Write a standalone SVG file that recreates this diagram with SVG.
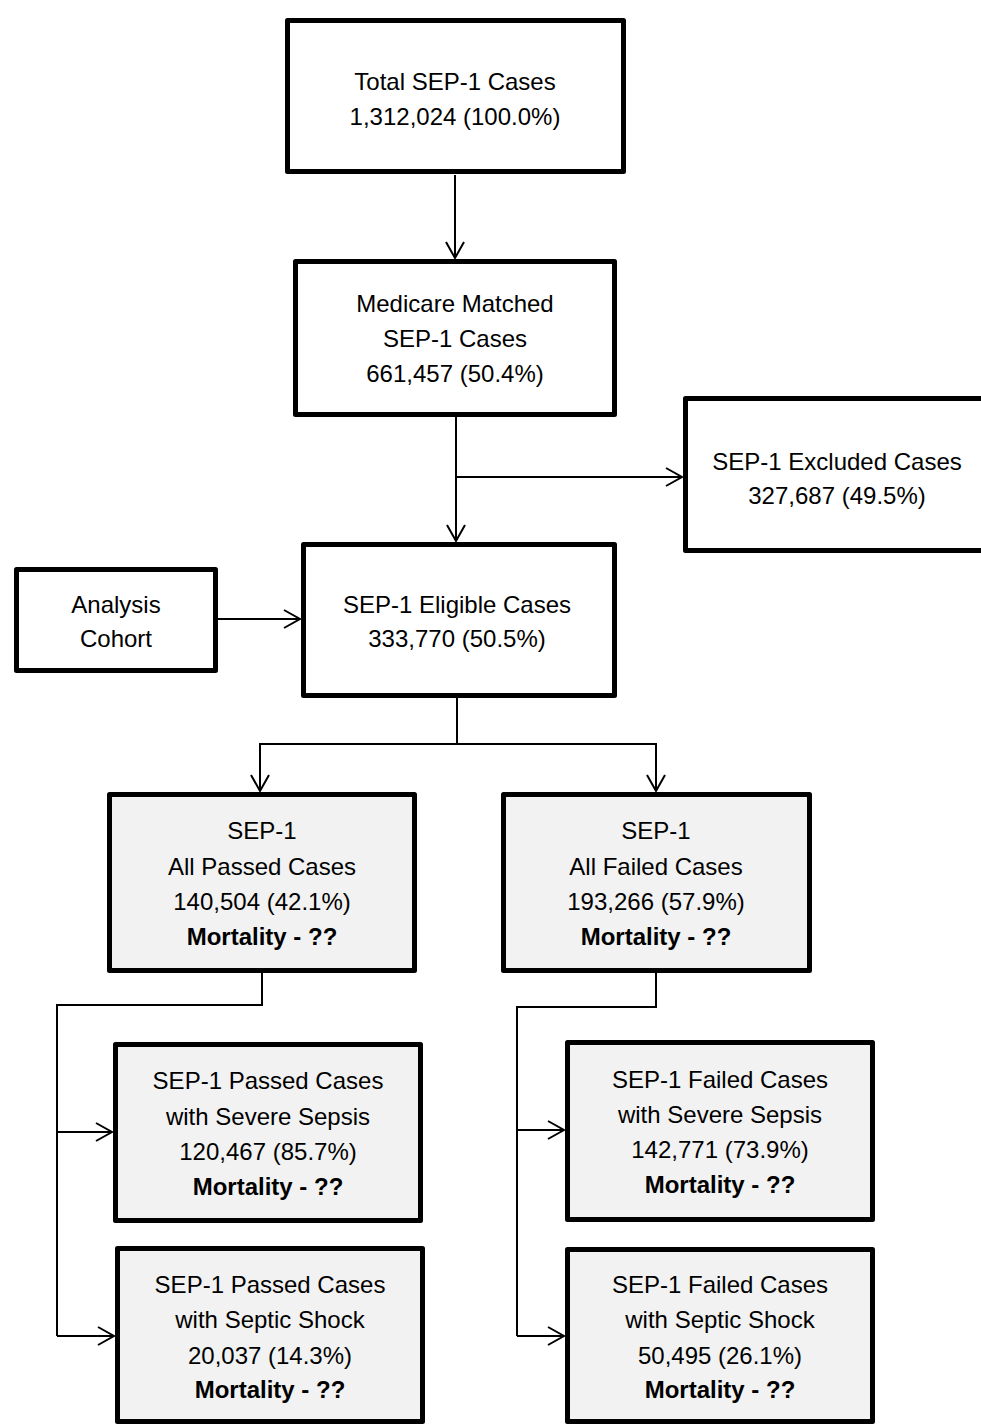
<svg xmlns="http://www.w3.org/2000/svg" width="981" height="1425" viewBox="0 0 981 1425">
<style>
.box{fill:#ffffff;stroke:#000;stroke-width:5;stroke-linejoin:round}
.gbox{fill:#f2f2f2;stroke:#000;stroke-width:5;stroke-linejoin:round}
.t{font-family:"Liberation Sans",Arial,sans-serif;font-size:24px;fill:#000;text-anchor:middle}
.b{font-weight:bold}
.c{fill:none;stroke:#000;stroke-width:2}
</style>
<defs>
<marker id="arr" markerUnits="userSpaceOnUse" markerWidth="24" markerHeight="24" viewBox="-20 -12 24 24" refX="0" refY="0" orient="auto" overflow="visible">
<path d="M-16,-9 L0,0 L-16,9" fill="none" stroke="#000" stroke-width="2"/>
</marker>
</defs>
<rect width="981" height="1425" fill="#fff"/>
<g id="connectors">
<path class="c" d="M455,175 V258" marker-end="url(#arr)"/>
<path class="c" d="M456,417 V541" marker-end="url(#arr)"/>
<path class="c" d="M456,477 H682" marker-end="url(#arr)"/>
<path class="c" d="M218,619 H300" marker-end="url(#arr)"/>
<path class="c" d="M457,698 V744"/>
<path class="c" d="M259,744 H657"/>
<path class="c" d="M260,744 V791" marker-end="url(#arr)"/>
<path class="c" d="M656,744 V791" marker-end="url(#arr)"/>
<path class="c" d="M262,973 V1005 H57 V1336"/>
<path class="c" d="M57,1132 H112" marker-end="url(#arr)"/>
<path class="c" d="M57,1336 H114" marker-end="url(#arr)"/>
<path class="c" d="M656,973 V1007 H517 V1336"/>
<path class="c" d="M517,1130 H564" marker-end="url(#arr)"/>
<path class="c" d="M517,1336 H564" marker-end="url(#arr)"/>
</g>
<g id="total">
<rect class="box" x="287.5" y="20.5" width="336" height="151"/>
<text class="t" x="455" y="90">Total SEP-1 Cases</text>
<text class="t" x="455" y="125">1,312,024 (100.0%)</text>
</g>
<g id="medicare">
<rect class="box" x="295.5" y="261.5" width="319" height="153"/>
<text class="t" x="455" y="312">Medicare Matched</text>
<text class="t" x="455" y="347">SEP-1 Cases</text>
<text class="t" x="455" y="382">661,457 (50.4%)</text>
</g>
<g id="excluded">
<rect class="box" x="685.5" y="398.5" width="305" height="152"/>
<text class="t" x="837" y="470">SEP-1 Excluded Cases</text>
<text class="t" x="837" y="504">327,687 (49.5%)</text>
</g>
<g id="analysis">
<rect class="box" x="16.5" y="569.5" width="199" height="101"/>
<text class="t" x="116" y="613">Analysis</text>
<text class="t" x="116" y="647">Cohort</text>
</g>
<g id="eligible">
<rect class="box" x="303.5" y="544.5" width="311" height="151"/>
<text class="t" x="457" y="613">SEP-1 Eligible Cases</text>
<text class="t" x="457" y="647">333,770 (50.5%)</text>
</g>
<g id="passed">
<rect class="gbox" x="109.5" y="794.5" width="305" height="176"/>
<text class="t" x="262" y="839">SEP-1</text>
<text class="t" x="262" y="875">All Passed Cases</text>
<text class="t" x="262" y="910">140,504 (42.1%)</text>
<text class="t b" x="262" y="945">Mortality - ??</text>
</g>
<g id="failed">
<rect class="gbox" x="503.5" y="794.5" width="306" height="176"/>
<text class="t" x="656" y="839">SEP-1</text>
<text class="t" x="656" y="875">All Failed Cases</text>
<text class="t" x="656" y="910">193,266 (57.9%)</text>
<text class="t b" x="656" y="945">Mortality - ??</text>
</g>
<g id="passed-severe">
<rect class="gbox" x="115.5" y="1044.5" width="305" height="176"/>
<text class="t" x="268" y="1089">SEP-1 Passed Cases</text>
<text class="t" x="268" y="1125">with Severe Sepsis</text>
<text class="t" x="268" y="1160">120,467 (85.7%)</text>
<text class="t b" x="268" y="1195">Mortality - ??</text>
</g>
<g id="passed-shock">
<rect class="gbox" x="117.5" y="1248.5" width="305" height="173"/>
<text class="t" x="270" y="1293">SEP-1 Passed Cases</text>
<text class="t" x="270" y="1328">with Septic Shock</text>
<text class="t" x="270" y="1364">20,037 (14.3%)</text>
<text class="t b" x="270" y="1398">Mortality - ??</text>
</g>
<g id="failed-severe">
<rect class="gbox" x="567.5" y="1042.5" width="305" height="177"/>
<text class="t" x="720" y="1088">SEP-1 Failed Cases</text>
<text class="t" x="720" y="1123">with Severe Sepsis</text>
<text class="t" x="720" y="1158">142,771 (73.9%)</text>
<text class="t b" x="720" y="1193">Mortality - ??</text>
</g>
<g id="failed-shock">
<rect class="gbox" x="567.5" y="1249.5" width="305" height="172"/>
<text class="t" x="720" y="1293">SEP-1 Failed Cases</text>
<text class="t" x="720" y="1328">with Septic Shock</text>
<text class="t" x="720" y="1364">50,495 (26.1%)</text>
<text class="t b" x="720" y="1398">Mortality - ??</text>
</g>
</svg>
